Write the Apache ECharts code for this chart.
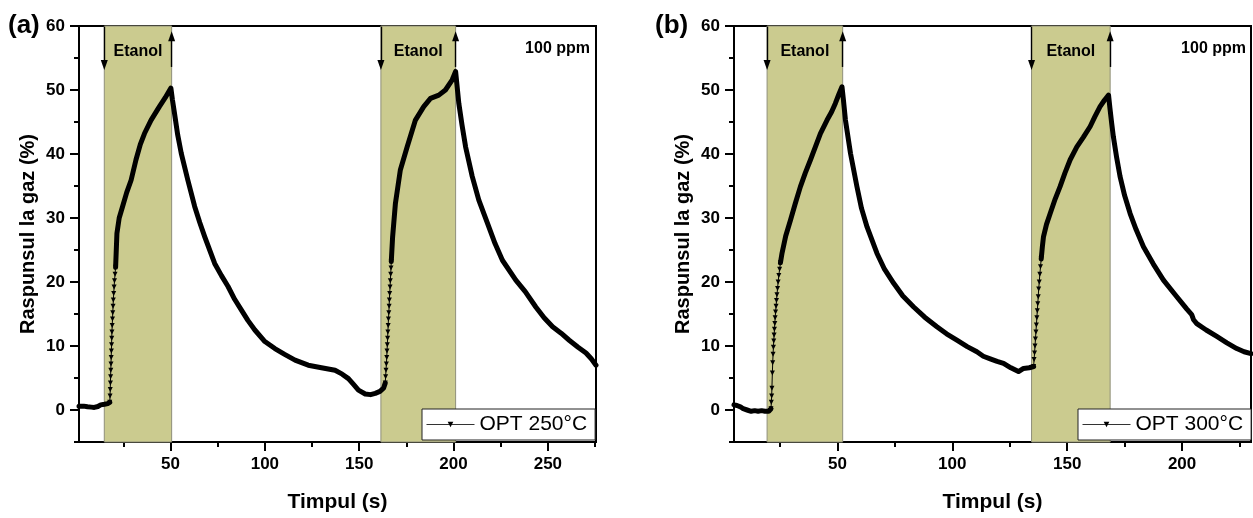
<!DOCTYPE html>
<html><head><meta charset="utf-8">
<script src="https://cdn.jsdelivr.net/npm/echarts@6/dist/echarts.min.js"></script>
<style>html,body{margin:0;padding:0;background:#fff}#c{width:1253px;height:518px}</style>
</head><body><div id="c"></div>
<script>
// ---------- data ----------
const xMajorA = [50, 100, 150, 200, 250];
const xMinorA = [25, 75, 125, 175, 225, 275];
const xMajorB = [50, 100, 150, 200];
const xMinorB = [25, 75, 125, 175, 225];
const yMajor = [0, 10, 20, 30, 40, 50, 60];
const yMinor = [-5, 5, 15, 25, 35, 45, 55];
const bandsA = [[14.9, 50.6], [161.5, 201.1]];
const bandsB = [[19.4, 52.3], [134.5, 168.7]];
const nameA = 'OPT 250°C';
const nameB = 'OPT 300°C';

const baseA = [[1.5,0.6],[4,0.6],[6,0.5],[8,0.45],[9.6,0.4],[11.5,0.55],[13,0.8],[15,0.9],[16.7,1.0],[17.8,1.2]];
const riseA1 = [[17.8,1.2],[17.95,2.2],[18.05,3.2],[18.15,4.2],[18.25,5.2],[18.35,6.2],[18.45,7.2],[18.55,8.2],[18.65,9.2],[18.75,10.2],[18.85,11.2],[18.95,12.2],[19.1,13.2],[19.25,14.2],[19.4,15.2],[19.55,16.2],[19.7,17.2],[19.9,18.2],[20.1,19.2],[20.3,20.2],[20.6,21.2],[20.9,22.3]];
const curveA1 = [[20.9,22.3],[21.6,27.6],[22.8,30],[24.6,31.8],[26.8,34],[29.1,35.9],[31.7,39.1],[34,41.5],[36.2,43.2],[39.7,45.3],[44.1,47.4],[47.2,48.8],[50.2,50.3],[51,48.5],[52.1,46.4],[53.8,43],[55.7,40.1],[59.2,35.9],[62.8,31.8],[65.5,29.3],[68.1,27.1],[73.4,22.9],[77,21],[80.5,19.3],[84,17.3],[87.6,15.6],[91,14],[94.7,12.5],[100,10.7],[105.3,9.6],[110.5,8.7],[116,7.8],[123,7.0],[130,6.6],[137.2,6.2],[141,5.6],[144.3,4.9],[147,4],[149.6,3.1],[153.2,2.5],[156,2.4],[158.5,2.6],[161,2.9],[162.9,3.4],[163.8,4.2]];
const riseA2 = [[163.8,4.2],[164.0,5.2],[164.2,6.2],[164.4,7.2],[164.6,8.2],[164.75,9.2],[164.9,10.2],[165.05,11.2],[165.2,12.2],[165.35,13.2],[165.5,14.2],[165.7,15.2],[165.85,16.2],[166.0,17.2],[166.15,18.2],[166.35,19.2],[166.5,20.2],[166.7,21.2],[166.85,22.2],[167.0,23.2]];
const curveA2 = [[167.0,23.2],[167.7,27],[169.2,32.3],[171.8,37.5],[175.4,41.1],[179.8,45.3],[184.2,47.4],[187.8,48.7],[192.2,49.2],[195.7,50],[199.3,51.6],[201.1,52.9],[202.8,47.9],[204.5,44.5],[206.4,41.1],[209.9,36.5],[213.4,32.8],[218.7,28.6],[222,26],[225.9,23.4],[233,20.3],[238,18.5],[243.6,16.1],[248,14.4],[252.5,13],[257,12],[261.3,10.9],[266,9.8],[270.2,8.9],[273,8],[275.5,7.0]];

const baseB = [[5,0.8],[6.3,0.7],[7.8,0.5],[9,0.2],[10.7,0.0],[12.5,-0.2],[14,-0.1],[15.5,-0.2],[17,-0.1],[18.5,-0.2],[20.1,-0.2],[21.1,0.2]];
const riseB1 = [[21.1,0.2],[21.25,1.2],[21.4,2.2],[21.5,3.4],[21.7,5.8],[21.85,7.4],[22.0,8.7],[22.15,9.8],[22.3,10.8],[22.45,11.7],[22.6,12.6],[22.75,13.5],[22.9,14.4],[23.1,15.3],[23.3,16.2],[23.5,17.1],[23.7,18.0],[23.95,19.0],[24.2,20.0],[24.5,21.0],[24.85,22.0],[25.2,23.0]];
const curveB1 = [[25.2,23],[25.9,24.5],[27.5,27.2],[29.6,29.7],[31.7,32.3],[33.9,34.9],[36,37],[38.3,39.1],[40.5,41.2],[42.6,43.2],[45.5,45.3],[47.5,46.6],[49.1,47.9],[50.6,49.3],[52.0,50.5],[52.6,48.5],[53.5,45.3],[55.7,40.1],[58.5,34.9],[60.5,31.5],[62.9,28.6],[67.2,24.5],[70.5,22],[74.5,19.8],[78.5,17.8],[83.2,16.1],[88,14.5],[93.3,13],[97.5,11.9],[102,10.9],[106.5,9.9],[110.7,9.1],[113.5,8.4],[116.5,8.0],[119.5,7.6],[122.3,7.3],[125.5,6.6],[128.8,6.0],[131,6.5],[133.5,6.6],[135.4,6.8]];
const riseB2 = [[135.4,6.8],[135.6,7.9],[135.8,8.9],[136.0,10.0],[136.2,11.1],[136.4,12.2],[136.6,13.3],[136.8,14.4],[137.0,15.5],[137.2,16.6],[137.4,17.7],[137.6,18.9],[137.85,20.0],[138.1,21.2],[138.4,22.4],[138.7,23.6]];
const curveB2 = [[138.7,23.6],[139.2,25.5],[139.7,27.1],[141,29],[142.6,30.7],[144.8,33],[146.9,34.9],[149,37],[151.3,39.1],[154.2,41.1],[157,42.6],[160,44.3],[162,45.8],[164.3,47.4],[166.2,48.4],[168,49.2],[168.6,47.2],[169.3,45],[170.1,42.7],[171.5,39.5],[173,36.5],[175,33.5],[177.4,30.7],[180,28.2],[183.2,25.5],[187.5,22.8],[191.9,20.3],[197,18],[202,15.8],[204.2,14.9],[205,14.1],[206.4,13.5],[210.5,12.5],[215.1,11.5],[219.5,10.5],[223.8,9.6],[227,9.1],[230,8.8]];

// ---------- styling / build ----------
const FONT = 'Liberation Sans, Arial, sans-serif';
const TRI = 'path://M0,0L10,0L5,9Z';
const BAND = '#cbcb8f';

function gridsFor(i) {
  return i === 0 ? {left: 79, top: 26, width: 517, height: 416}
                 : {left: 734, top: 26, width: 517, height: 416};
}
function xAxes(gi, min, max, major, minor) {
  return [{
    type: 'value', gridIndex: gi, min: min, max: max, position: 'bottom',
    name: 'Timpul (s)', nameLocation: 'middle', nameGap: 50,
    nameTextStyle: {fontSize: 21, fontWeight: 'bold', color: '#000', fontFamily: FONT},
    axisLine: {show: true, onZero: false, lineStyle: {color: '#000', width: 2}},
    axisTick: {show: true, inside: false, length: 9, lineStyle: {color: '#000', width: 2}, customValues: major},
    axisLabel: {show: true, margin: 14, fontSize: 17, fontWeight: 'bold', color: '#000', fontFamily: FONT, customValues: major},
    splitLine: {show: false}
  }, {
    type: 'value', gridIndex: gi, min: min, max: max, position: 'bottom',
    axisLine: {show: false, onZero: false},
    axisTick: {show: true, length: 5, lineStyle: {color: '#000', width: 2}, customValues: minor},
    axisLabel: {show: false, customValues: minor},
    splitLine: {show: false}
  }];
}
function yAxes(gi) {
  return [{
    type: 'value', gridIndex: gi, min: -5, max: 60, position: 'left',
    name: 'Raspunsul la gaz (%)', nameLocation: 'middle', nameGap: 41,
    nameTextStyle: {fontSize: 20, fontWeight: 'bold', color: '#000', fontFamily: FONT},
    axisLine: {show: true, onZero: false, lineStyle: {color: '#000', width: 2}},
    axisTick: {show: true, length: 9, lineStyle: {color: '#000', width: 2}, customValues: yMajor},
    axisLabel: {show: true, margin: 14, fontSize: 17, fontWeight: 'bold', color: '#000', fontFamily: FONT, customValues: yMajor},
    splitLine: {show: false}
  }, {
    type: 'value', gridIndex: gi, min: -5, max: 60, position: 'left',
    axisLine: {show: false, onZero: false},
    axisTick: {show: true, length: 5, lineStyle: {color: '#000', width: 2}, customValues: yMinor},
    axisLabel: {show: false, customValues: yMinor},
    splitLine: {show: false}
  }];
}
function bandSeries(xi, yi, bands) {
  const areas = bands.map(b => [{xAxis: b[0]}, {xAxis: b[1]}]);
  const arrows = [];
  bands.forEach(b => {
    arrows.push([{coord: [b[0], 59.9], symbol: 'none'}, {coord: [b[0], 53.9], symbol: 'triangle'}]);
    arrows.push([{coord: [b[1], 53.6], symbol: 'none'}, {coord: [b[1], 58.4], symbol: 'triangle'}]);
  });
  return {
    type: 'line', name: 'bands', xAxisIndex: xi, yAxisIndex: yi, data: [], z: 1, silent: true,
    markArea: {
      silent: true,
      itemStyle: {color: BAND, borderColor: '#8f8f7a', borderWidth: 1},
      label: {show: true, position: 'insideTop', distance: 18, formatter: 'Etanol',
        fontSize: 16, fontWeight: 'bold', color: '#000', fontFamily: FONT},
      data: areas
    },
    markLine: {
      silent: true, symbolSize: [7, 10], animation: false,
      lineStyle: {color: '#000', width: 1.4, type: 'solid'},
      label: {show: false},
      data: arrows
    }
  };
}
function thick(xi, yi, data) {
  return {type: 'line', name: '_curve', xAxisIndex: xi, yAxisIndex: yi, data: data, z: 3,
    showSymbol: false, symbol: 'none', silent: true,
    lineStyle: {color: '#000', width: 5, cap: 'round', join: 'round'}};
}
function rise(xi, yi, data, name) {
  return {type: 'line', name: name, xAxisIndex: xi, yAxisIndex: yi, data: data, z: 4,
    showSymbol: true, symbol: TRI, symbolSize: [5, 5], silent: true,
    itemStyle: {color: '#000'},
    lineStyle: {color: '#000', width: 1}};
}
function legend(left, name) {
  return {left: left, top: 409, data: [name], orient: 'horizontal',
    padding: [5, 8, 5, 4], itemWidth: 48, itemHeight: 7,
    backgroundColor: '#fff', borderColor: '#222', borderWidth: 1, borderRadius: 0,
    selectedMode: false,
    lineStyle: {width: 1, color: '#333'},
    textStyle: {fontSize: 21, color: '#000', fontFamily: FONT}};
}

const option = {
  animation: false,
  backgroundColor: '#fff',
  title: [
    {text: '(a)', left: 8, top: 13, padding: 0, textStyle: {fontSize: 26, fontWeight: 'bold', color: '#000', fontFamily: FONT}},
    {text: '(b)', left: 655, top: 13, padding: 0, textStyle: {fontSize: 26, fontWeight: 'bold', color: '#000', fontFamily: FONT}},
    {text: '100 ppm', right: 663, top: 41, padding: 0, textStyle: {fontSize: 16, fontWeight: 'bold', color: '#000', fontFamily: FONT}},
    {text: '100 ppm', right: 7, top: 41, padding: 0, textStyle: {fontSize: 16, fontWeight: 'bold', color: '#000', fontFamily: FONT}}
  ],
  grid: [
    Object.assign({show: true, borderColor: '#000', borderWidth: 2, backgroundColor: 'transparent'}, gridsFor(0)),
    Object.assign({show: true, borderColor: '#000', borderWidth: 2, backgroundColor: 'transparent'}, gridsFor(1))
  ],
  xAxis: [].concat(xAxes(0, 1.5, 275.5, xMajorA, xMinorA), xAxes(1, 5, 230, xMajorB, xMinorB)),
  yAxis: [].concat(yAxes(0), yAxes(1)),
  legend: [legend(422, nameA), legend(1078, nameB)],
  series: [
    bandSeries(0, 0, bandsA),
    rise(0, 0, riseA1, nameA),
    rise(0, 0, riseA2, nameA),
    thick(0, 0, baseA), thick(0, 0, curveA1), thick(0, 0, curveA2),
    bandSeries(2, 2, bandsB),
    rise(2, 2, riseB1, nameB),
    rise(2, 2, riseB2, nameB),
    thick(2, 2, baseB), thick(2, 2, curveB1), thick(2, 2, curveB2)
  ]
};
const chart = echarts.init(document.getElementById('c'), null, {renderer: 'canvas'});
chart.setOption(option);
</script>
</body></html>
